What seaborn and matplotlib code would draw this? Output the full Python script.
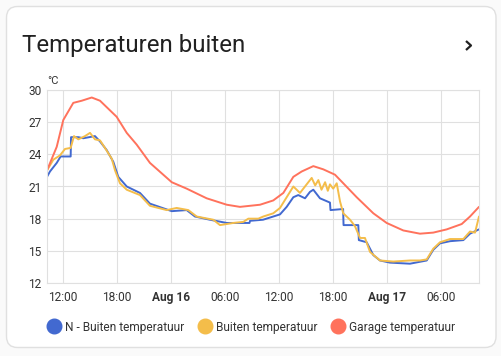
import numpy as np
import pandas as pd
import matplotlib
matplotlib.use("Agg")
import matplotlib.pyplot as plt
import seaborn as sns
from matplotlib.patches import FancyBboxPatch
from matplotlib.lines import Line2D

# ---------------- data (hours since 2024-08-15 10:13) ----------------
start = pd.Timestamp("2024-08-15 10:13")
end = start + pd.Timedelta(hours=48)

n_hours = [0, 0.33, 1.08, 1.44, 1.5, 2.63, 2.67, 3.48, 4.03, 5.33, 5.89, 6.63, 7.37, 7.92,
           8.86, 10.33, 11.44, 13.86, 15.52, 16.44, 18.11, 19.97, 22.5, 22.56, 24.0,
           25.14, 25.89, 26.63, 27.37, 27.92, 28.67, 29.22, 29.59, 30.33, 31.44, 31.5,
           32.9, 32.95, 34.59, 34.65, 35.52, 36.26, 37.0, 38.11, 40.33, 42.19, 42.92,
           43.67, 44.78, 46.26, 47.0, 47.74, 48.0]
n_temp = [21.9, 22.4, 23.2, 23.7, 23.8, 23.8, 25.6, 25.6, 25.5, 25.7, 25.2, 24.4, 23.3, 21.9,
          21.0, 20.4, 19.4, 18.7, 18.8, 18.2, 17.9, 17.6, 17.6, 17.8, 17.9,
          18.2, 18.4, 19.1, 20.0, 20.2, 19.9, 20.5, 20.7, 19.9, 19.5, 18.8,
          18.9, 17.4, 17.4, 16.0, 15.8, 14.6, 14.1, 13.9, 13.8, 14.1, 15.1,
          15.7, 15.9, 16.0, 16.6, 16.9, 17.0]

b_hours = [0, 0.7, 1.44, 2.0, 2.63, 3.0, 3.48, 4.22, 4.78, 5.33, 5.89, 6.44, 7.19, 7.56,
           8.11, 8.86, 10.33, 11.44, 13.3, 14.41, 15.7, 16.63, 18.48, 19.22, 20.7, 21.81,
           22.37, 23.48, 24.03, 25.14, 25.89, 26.63, 27.37, 28.11, 28.85, 29.41, 29.8,
           30.15, 30.5, 30.9, 31.2, 31.44, 31.8, 32.19, 32.56, 32.92, 33.67, 34.22, 34.78,
           35.33, 35.89, 37.0, 38.48, 40.33, 41.44, 42.19, 42.92, 43.67, 44.78, 46.26,
           47.0, 47.56, 48.0]
b_temp = [22.5, 23.5, 23.9, 24.5, 24.6, 25.7, 25.4, 25.7, 26.0, 25.4, 25.3, 24.6, 23.6, 22.5,
          21.3, 20.7, 20.2, 19.2, 18.8, 19.0, 18.8, 18.2, 17.9, 17.4, 17.6, 17.7,
          18.0, 18.0, 18.2, 18.5, 19.0, 20.0, 21.0, 20.4, 21.2, 21.8, 21.1,
          21.6, 20.7, 21.4, 20.6, 21.2, 20.8, 21.3, 19.6, 18.5, 17.9, 17.3, 16.2,
          16.2, 14.9, 14.1, 14.0, 14.1, 14.1, 14.2, 15.2, 15.8, 16.1, 16.1,
          16.8, 16.7, 18.2]

g_hours = [0, 1.08, 1.81, 2.92, 3.86, 4.97, 5.89, 6.63, 7.74, 8.86, 9.97, 11.44, 13.86,
           15.52, 17.74, 19.97, 21.44, 23.67, 25.14, 26.26, 27.37, 28.3, 29.59, 30.7,
           32.0, 32.92, 34.41, 36.26, 37.74, 39.59, 41.44, 42.92, 44.41, 46.08, 47.0, 48.0]
g_temp = [22.5, 24.7, 27.2, 28.8, 29.0, 29.3, 29.0, 28.4, 27.5, 26.0, 24.9, 23.2, 21.4,
          20.8, 19.9, 19.3, 19.1, 19.3, 19.7, 20.4, 21.9, 22.4, 22.9, 22.6,
          22.1, 21.3, 20.0, 18.5, 17.6, 16.9, 16.6, 16.7, 17.0, 17.5, 18.2, 19.1]

series_names = ["N - Buiten temperatuur", "Buiten temperatuur", "Garage temperatuur"]
colors = ["#4269d0", "#f4bd4a", "#ff725c"]
y_ticks = [12, 15, 18, 21, 24, 27, 30]


def frame(hours, temps):
    return pd.DataFrame({"time": start + pd.to_timedelta(hours, unit="h"), "temp": temps})


sns.set_theme(style="white")
plt.rcParams["font.family"] = ["Roboto", "DejaVu Sans"]

W, H = 502, 356
fig = plt.figure(figsize=(W / 100, H / 100), dpi=100, facecolor="#fafafa")

card = FancyBboxPatch((6.5, 8.5), 489.5, 341, boxstyle="round,pad=0,rounding_size=11",
                      transform=None, fc="white", ec="#e0e0e0", lw=1.0, zorder=-5)
fig.add_artist(card)

ax = fig.add_axes([47 / W, 73 / H, 432 / W, 193 / H])
ax.set_facecolor("white")

sns.lineplot(data=frame(n_hours, n_temp), x="time", y="temp", ax=ax, color=colors[0], lw=1.4)
sns.lineplot(data=frame(b_hours, b_temp), x="time", y="temp", ax=ax, color=colors[1], lw=1.4)
sns.lineplot(data=frame(g_hours, g_temp), x="time", y="temp", ax=ax, color=colors[2], lw=1.4)

ax.set_xlim(start, end)
ax.set_ylim(12, 30)
ax.set_yticks(y_ticks)
ax.set_xlabel("")
ax.set_ylabel("")

tick_times = pd.date_range(start.ceil("6h"), end, freq="6h")
ax.set_xticks(tick_times)
labels = [t.strftime("%b %d").replace(" 0", " ") if t.hour == 0 else t.strftime("%H:%M")
          for t in tick_times]
ax.set_xticklabels(labels)
for lab in ax.get_xticklabels():
    if lab.get_text().startswith("Aug"):
        lab.set_fontweight("bold")

ax.grid(True, color="#e0e0e0", lw=0.8)
for s in ax.spines.values():
    s.set_color("#e0e0e0")
    s.set_linewidth(0.8)
ax.tick_params(axis="x", length=3, width=0.8, color="#e0e0e0", pad=3,
               labelsize=8.6, labelcolor="#333333")
ax.tick_params(axis="y", length=0, pad=4, labelsize=8.6, labelcolor="#333333")

fig.text(22 / W, (H - 52) / H, "Temperaturen buiten", fontsize=17.3, color="#212121",
         va="baseline", ha="left")
fig.text(47 / W, (H - 84) / H, "°C", fontsize=8, color="#333333", va="baseline", ha="left")

chev = Line2D([466 / W, 471 / W, 466 / W], [(H - 41) / H, (H - 45.5) / H, (H - 50) / H],
              transform=fig.transFigure, color="#212121", lw=1.6, solid_capstyle="butt")
fig.add_artist(chev)

handles = [Line2D([], [], marker="o", ls="", markersize=10.5, color=c) for c in colors]
fig.legend(handles, series_names, loc="center", bbox_to_anchor=(251 / W, (H - 327) / H),
           ncol=3, frameon=False, fontsize=8.6, handletextpad=0.35, columnspacing=1.1,
           handlelength=1.2, labelcolor="#333333")

fig.savefig("out.png", dpi=100, facecolor=fig.get_facecolor())
